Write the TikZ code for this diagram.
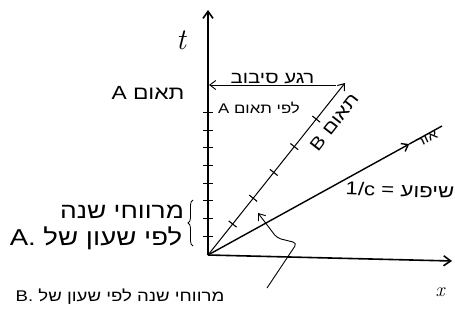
\documentclass[tikz,border=0pt]{standalone}
\usepackage{fontspec}
\newfontfamily\hebfont[Script=Hebrew,FakeStretch=1.2]{Liberation Sans}
\TeXXeTstate=1
\usetikzlibrary{calc,arrows.meta,decorations.pathreplacing}
\newcommand{\rtl}[1]{\beginR #1\endR}
\newcommand{\hebsize}[1]{\hebfont\fontsize{#1}{#1}\selectfont}

\begin{document}
\begin{tikzpicture}[x=1pt,y=-1pt,
	axis/.style={line width=1.6pt,-{Straight Barb[length=7pt,width=10pt]}},
	worldline/.style={line width=1pt,-{Straight Barb[length=6pt,width=9pt]}},
	tickmark/.style={line width=1.1pt},
	heb/.style={font=\hebsize{15},inner sep=1pt}]
	\useasboundingbox (0,0) rectangle (455,321);
	\coordinate (O) at (208,255);
	\coordinate (T) at (208,10);
	\coordinate (X) at (452,261);
	\coordinate (B) at (345,83);
	\coordinate (L) at (442,126);
	\coordinate (Lm) at ($(O)!0.86!(L)$);
	\coordinate (R) at (209,85);
	\coordinate (Re) at (336,85);
	\coordinate (c1) at (267,288);
	\coordinate (c2) at (297,243);
	\coordinate (c3) at (277,238);
	\coordinate (c4) at (258,213);
	
	\draw[axis] (O) -- (T);
	\draw[axis] (O) -- (X);
	\foreach \k in {1,...,8}
		\draw[tickmark] (203,{254-17.7*\k}) -- (213,{254-17.7*\k});
	
	\draw[worldline] (O) -- (B);
	\foreach \f in {0.18,0.33,0.48,0.63,0.79}
		\draw[tickmark] ($(O)!\f!(B)!5pt!90:(B)$) -- ($(O)!\f!(B)!5pt!-90:(B)$);
	
	\draw[worldline,line width=1.4pt] (O) -- (Lm);
	\draw[line width=1.4pt] (Lm) -- (L);
	
	\draw[worldline,line width=0.9pt] (Re) -- (R);
	\node[heb,above,font=\hebsize{17}] (turn) at ($(R)!0.5!(Re)$) {\rtl{רגע סיבוב}};
	\node[heb,font=\hebsize{14}] (turnA) at (259,108) {\rtl{לפי תאום A}};
	\node[heb,font=\hebsize{19}] (twinA) at (148,93) {\rtl{תאום A}};
	\node[heb,rotate=52,font=\hebsize{17.5}] (twinB) at (334,122) {\rtl{תאום B}};
	\node[heb,rotate=25,font=\hebsize{13}] (light) at (427,139) {\rtl{אור}};
	\node[heb,rotate=-2,font=\hebsize{18.5}] (slope) at (400,190) {\rtl{שיפוע = \beginL 1/c\endL}};
	
	\draw[line width=0.8pt,decorate,decoration={brace,amplitude=5pt,mirror}] (193,200) -- (193,246);
	\node[heb,font=\hebsize{22}] (yearsA) at (122,212) {\rtl{מרווחי שנה}};
	\node[heb,font=\hebsize{23}] (clockA) at (96,238) {\rtl{לפי שעון של A.}};
	\node[heb,font=\hebsize{15.5}] (yearsB) at (120,297) {\rtl{מרווחי שנה לפי שעון של B.}};
	\draw[worldline,line width=0.9pt,rounded corners=4pt] (c1) -- (c2) -- (c3) -- (c4);
	
	\node[font=\fontsize{30}{30}\selectfont\itshape] (tlab) at (181,40) {t};
	\node[font=\fontsize{20}{20}\selectfont\itshape] (xlab) at (440,292) {x};
\end{tikzpicture}
\end{document}
